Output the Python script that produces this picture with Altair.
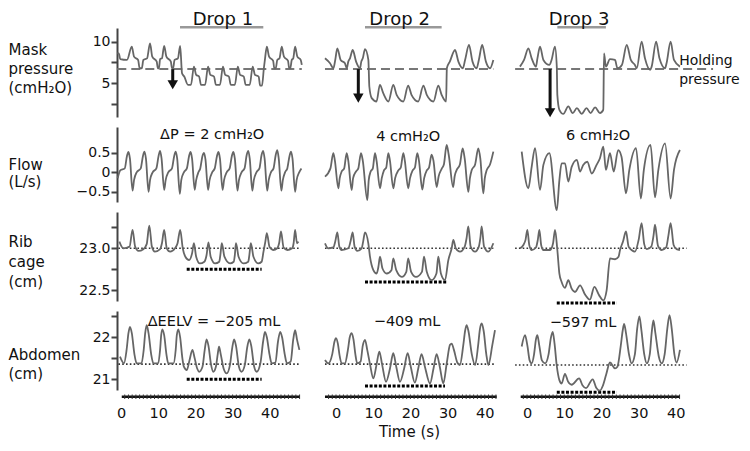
import altair as alt
import pandas as pd

FONT = "DejaVu Sans"
LINE = "#666666"

# ---------------- layout / scales (data units) ----------------
col_domains = [[-1.08, 51.34], [-6.45, 45.7], [-5.65, 43.0]]
col_widths = [195, 194, 181]
row_domains = [[0.93, 11.65], [-0.76, 1.16], [22.373, 23.432], [20.745, 22.626]]
row_heights = [89, 75, 89, 79]

row_titles = [["Mask", "pressure", "(cmH₂O)"], ["Flow", "(L/s)"], ["Rib", "cage", "(cm)"], ["Abdomen", "(cm)"]]
row_title_y = [14.5, 30.5, 22.2, 36.5]
row_title_lh = [19, 17, 20, 19]
y_tick_values = [[2.5, 5, 7.5, 10], [-0.5, 0, 0.5], [22.5, 22.75, 23, 23.25], [21, 21.5, 22, 22.5]]
y_label_exprs = [
    "datum.value == 10 ? '10' : (datum.value == 5 ? '5' : '')",
    "datum.value > 0.1 ? '0.5' : (datum.value < -0.1 ? '\u22120.5' : '0')",
    "datum.value == 23 ? '23.0' : (datum.value == 22.5 ? '22.5' : '')",
    "datum.value == 22 ? '22' : (datum.value == 21 ? '21' : '')",
]
x_tick_values = [0, 10, 20, 30, 40]

# ---------------- traces: (time s, value) ----------------
mask1 = [(-1.0, 8.6), (-0.6, 8.6), (-0.2, 7.9), (1.6, 7.8), (2.9, 9.4), (3.5, 8.2), (4.6, 7.8), (5.0, 6.8),
         (5.6, 6.8), (6.0, 7.8), (7.0, 8.0), (7.8, 9.8), (8.4, 8.2), (9.6, 7.6), (9.9, 6.8), (10.2, 6.8),
         (10.5, 7.9), (11.0, 8.0), (11.6, 9.5), (12.2, 8.2), (13.4, 7.6), (13.7, 6.8), (14.0, 6.8), (14.4, 7.8),
         (15.3, 8.0), (15.9, 9.5), (16.4, 6.2), (17.0, 5.8), (18.0, 4.8), (18.8, 4.8), (19.6, 7.0), (20.2, 6.0),
         (21.0, 5.8), (21.5, 4.8), (22.6, 4.8), (23.4, 7.0), (24.0, 6.0), (25.0, 5.8), (25.5, 4.8), (26.6, 4.8),
         (27.4, 7.0), (28.0, 6.0), (29.0, 5.8), (29.5, 4.8), (30.6, 4.8), (31.4, 7.0), (32.0, 6.0), (33.0, 5.8),
         (33.5, 4.8), (34.6, 4.8), (35.4, 7.0), (36.0, 6.0), (37.0, 5.8), (37.4, 4.7), (37.9, 4.7), (38.4, 6.8),
         (38.7, 7.9), (39.2, 9.4), (39.8, 8.2), (40.9, 7.7), (41.2, 6.8), (41.6, 6.8), (42.0, 7.8), (42.6, 8.0),
         (43.2, 9.4), (43.8, 8.2), (44.9, 7.7), (45.2, 6.8), (45.5, 6.8), (45.9, 7.8), (46.3, 8.0), (46.8, 9.4),
         (47.4, 8.2), (48.3, 7.8), (48.6, 7.2)]
mask2 = [(-2.96, 8.0), (-1.6, 7.4), (-0.7, 6.8), (-0.2, 7.8), (0.36, 9.2), (1.25, 7.8), (2.4, 7.4), (2.9, 6.8),
         (3.3, 7.6), (3.76, 8.0), (4.5, 9.0), (5.4, 7.6), (6.45, 6.8), (6.8, 7.6), (7.2, 8.0), (7.8, 9.1),
         (8.7, 7.8), (8.96, 4.6), (9.6, 3.2), (10.9, 2.8), (11.8, 4.8), (12.7, 3.8), (14.1, 2.8), (15.4, 4.8),
         (16.3, 3.6), (18.1, 2.8), (19.4, 4.7), (20.3, 3.6), (22.1, 2.8), (23.5, 4.7), (24.4, 3.6), (26.2, 2.8),
         (27.5, 4.7), (28.4, 3.6), (29.6, 2.8), (29.8, 6.8), (30.6, 7.6), (32.0, 9.0), (32.9, 7.6), (34.1, 6.8),
         (34.7, 7.8), (35.75, 9.6), (36.7, 7.6), (37.8, 6.8), (38.4, 7.8), (39.3, 9.6), (40.3, 7.6), (41.4, 6.8),
         (42.3, 7.8)]
mask3 = [(-1.9, 7.0), (-0.8, 7.8), (0.36, 9.2), (1.25, 8.0), (2.4, 7.0), (2.8, 8.0), (3.5, 9.4), (4.4, 7.8),
         (6.0, 7.2), (6.6, 7.8), (7.5, 9.4), (8.0, 7.0), (8.15, 3.6), (8.7, 1.8), (9.76, 1.3), (11.1, 2.2),
         (12.3, 1.4), (13.4, 2.0), (14.7, 1.3), (16.0, 2.0), (17.1, 1.4), (18.3, 2.1), (19.6, 1.4), (20.5, 1.8),
         (20.7, 8.6), (21.2, 7.0), (22.3, 7.9), (23.65, 7.8), (24.3, 6.8), (25.5, 7.2), (26.8, 9.6), (27.9, 7.8),
         (29.0, 7.2), (29.5, 6.8), (30.8, 10.0), (31.7, 8.0), (33.1, 6.6), (33.5, 7.0), (34.7, 10.0), (35.6, 8.0),
         (37.1, 6.8), (37.5, 7.4), (38.6, 10.0), (39.5, 7.8), (41.1, 7.0)]

flow1 = [(-0.9, -0.15), (-0.2, 0.05), (1.0, 0.1), (1.6, 0.42), (2.0, 0.52), (2.4, 0.35), (3.1, -0.47), (3.5, -0.2),
         (4.2, 0.0), (5.3, 0.1), (5.9, 0.42), (6.3, 0.53), (6.7, 0.35), (7.4, -0.5), (7.8, -0.2), (8.5, 0.0),
         (9.5, 0.1), (10.1, 0.42), (10.5, 0.55), (10.9, 0.35), (11.6, -0.45), (12.0, -0.2), (12.7, 0.0), (13.7, 0.1),
         (14.3, 0.42), (14.7, 0.53), (15.1, 0.35), (15.8, -0.55), (16.2, -0.2), (16.9, 0.0), (17.7, 0.1), (18.3, 0.42),
         (18.7, 0.52), (19.1, 0.35), (19.8, -0.45), (20.2, -0.2), (20.8, 0.0), (21.3, 0.1), (21.9, 0.42), (22.3, 0.5),
         (22.7, 0.33), (23.4, -0.45), (23.8, -0.2), (24.5, 0.0), (25.2, 0.1), (25.8, 0.42), (26.2, 0.52), (26.6, 0.35),
         (27.3, -0.45), (27.7, -0.2), (28.4, 0.0), (29.2, 0.1), (29.8, 0.42), (30.2, 0.52), (30.6, 0.35), (31.3, -0.47),
         (31.7, -0.2), (32.4, 0.0), (33.2, 0.1), (33.8, 0.45), (34.2, 0.55), (34.6, 0.35), (35.3, -0.47), (35.7, -0.2),
         (36.4, 0.0), (37.2, 0.1), (37.8, 0.45), (38.2, 0.55), (38.6, 0.35), (39.3, -0.47), (39.7, -0.2), (40.3, 0.0),
         (41.0, 0.1), (41.6, 0.45), (42.0, 0.57), (42.4, 0.35), (43.1, -0.47), (43.5, -0.2), (44.1, 0.0), (44.7, 0.1),
         (45.3, 0.42), (45.7, 0.53), (46.1, 0.35), (46.8, -0.5), (47.2, -0.2), (47.9, 0.0), (48.5, 0.1)]
flow2 = [(-2.96, -0.11), (-1.5, 0.1), (-0.72, 0.49), (-0.3, 0.3), (0.63, -0.41), (1.0, -0.15), (1.52, 0.02),
         (2.2, 0.1), (2.87, 0.49), (3.3, 0.3), (4.21, -0.45), (4.6, -0.15), (5.38, 0.02), (6.0, 0.1), (6.72, 0.49),
         (7.2, 0.3), (8.42, -0.71), (8.8, -0.2), (9.32, 0.02), (9.9, 0.1), (10.48, 0.49), (10.9, 0.3), (11.83, -0.41),
         (12.3, -0.15), (12.9, 0.05), (13.5, 0.12), (14.07, 0.49), (14.5, 0.3), (15.4, -0.41), (15.9, -0.15),
         (16.76, 0.05), (17.4, 0.12), (18.1, 0.49), (18.5, 0.3), (19.4, -0.41), (19.9, -0.15), (20.6, 0.05),
         (21.2, 0.12), (21.86, 0.49), (22.3, 0.3), (23.2, -0.44), (23.7, -0.15), (24.4, 0.05), (25.0, 0.12),
         (25.7, 0.45), (26.2, 0.3), (27.06, -0.38), (27.6, -0.1), (28.4, 0.09), (29.0, 0.2), (29.75, 0.7),
         (30.3, 0.45), (31.5, -0.38), (31.9, -0.1), (32.4, 0.05), (33.3, 0.2), (34.05, 0.61), (34.6, 0.35),
         (35.57, -0.5), (36.0, -0.15), (36.47, 0.05), (37.4, 0.2), (38.26, 0.61), (38.8, 0.35), (39.6, -0.54),
         (40.0, -0.15), (40.5, 0.05), (41.4, 0.2), (42.3, 0.53)]
flow3 = [(-1.43, 0.53), (0.36, -0.41), (1.25, 0.14), (2.15, 0.62), (3.5, -0.45), (4.4, 0.19), (6.0, 0.49),
         (8.0, -0.97), (8.7, -0.2), (9.3, 0.23), (10.2, 0.23), (11.1, -0.24), (12.0, 0.14), (13.4, 0.32),
         (14.25, 0.02), (15.1, 0.19), (16.2, 0.27), (17.4, -0.03), (18.7, 0.19), (19.6, 0.36), (20.5, 0.66),
         (21.2, 0.06), (22.3, 0.49), (23.3, 0.02), (24.5, 0.57), (25.4, 0.4), (26.6, -0.54), (27.5, 0.06),
         (29.3, 0.62), (30.6, -0.67), (31.4, 0.06), (33.2, 0.7), (34.4, -0.64), (35.3, 0.06), (37.1, 0.74),
         (38.6, -0.67), (39.5, 0.06), (41.1, 0.57)]

rib1 = [(-0.45, 23.08), (0.6, 23.0), (2.3, 23.02), (3.1, 23.22), (3.8, 23.02), (4.7, 22.97), (6.0, 22.99),
        (6.9, 23.05), (7.6, 23.27), (8.3, 23.02), (9.1, 22.96), (10.5, 22.99), (11.0, 23.06), (11.6, 23.22),
        (12.3, 23.0), (13.2, 22.96), (14.5, 23.0), (15.2, 23.06), (15.9, 23.22), (16.6, 23.0), (17.3, 22.9),
        (18.3, 22.86), (19.1, 22.94), (19.6, 23.06), (20.2, 22.9), (21.2, 22.82), (22.4, 22.84), (23.0, 22.92),
        (23.5, 23.07), (24.1, 22.9), (25.3, 22.82), (26.4, 22.84), (26.7, 22.92), (27.1, 23.06), (27.8, 22.9),
        (29.3, 22.82), (30.3, 22.84), (30.6, 22.92), (30.9, 23.06), (31.6, 22.9), (32.9, 22.82), (34.2, 22.84),
        (34.5, 22.92), (34.9, 23.06), (35.6, 22.9), (36.9, 22.82), (37.8, 22.84), (38.3, 22.96), (38.8, 23.08),
        (39.2, 23.18), (39.9, 23.02), (40.9, 22.98), (42.0, 23.0), (42.5, 23.06), (43.0, 23.2), (43.7, 23.01),
        (44.7, 22.98), (46.0, 23.0), (46.4, 23.06), (46.8, 23.22), (47.3, 23.06), (47.7, 23.08)]
rib2 = [(-2.96, 23.06), (-2.06, 23.0), (-0.72, 23.01), (-0.2, 23.08), (0.36, 23.19), (0.9, 23.02), (1.52, 22.98),
        (3.32, 23.0), (3.9, 23.08), (4.48, 23.19), (5.0, 23.02), (5.73, 22.97), (6.9, 23.0), (7.3, 23.08),
        (7.8, 23.19), (8.69, 23.06), (9.14, 22.9), (10.04, 22.74), (10.93, 22.7), (11.4, 22.78), (11.83, 22.9),
        (12.5, 22.76), (13.62, 22.7), (14.9, 22.74), (15.4, 22.88), (16.2, 22.74), (17.7, 22.66), (18.9, 22.72),
        (19.4, 22.88), (20.2, 22.72), (21.5, 22.66), (23.1, 22.72), (23.66, 22.9), (24.4, 22.72), (25.7, 22.62),
        (27.0, 22.7), (27.5, 22.9), (28.2, 22.7), (29.3, 22.62), (30.2, 22.86), (31.1, 23.0), (31.54, 23.1),
        (32.2, 23.0), (33.33, 22.96), (34.6, 23.02), (35.1, 23.12), (35.57, 23.26), (36.2, 23.02), (37.37, 22.96),
        (38.4, 23.02), (38.8, 23.12), (39.16, 23.26), (39.8, 23.02), (40.95, 22.96), (42.3, 23.06)]
rib3 = [(-1.88, 23.0), (-0.98, 23.04), (-0.4, 23.1), (0.09, 23.22), (0.6, 23.04), (1.25, 22.98), (2.4, 23.01),
        (2.9, 23.1), (3.32, 23.22), (3.8, 23.04), (4.4, 22.98), (6.2, 22.98), (7.0, 23.06), (7.53, 23.22),
        (8.15, 22.98), (8.7, 22.7), (9.3, 22.6), (10.2, 22.53), (11.1, 22.62), (12.0, 22.52), (12.9, 22.48),
        (14.25, 22.56), (15.6, 22.45), (16.9, 22.39), (18.1, 22.54), (19.4, 22.44), (20.5, 22.38), (21.4, 22.5),
        (22.3, 22.88), (23.66, 22.87), (24.6, 22.9), (25.0, 22.98), (25.8, 23.08), (26.6, 23.2), (27.3, 23.02),
        (28.1, 22.98), (29.0, 22.96), (30.0, 23.1), (30.8, 23.3), (31.5, 23.05), (32.2, 22.99), (33.4, 23.02),
        (34.0, 23.15), (34.4, 23.28), (35.2, 23.03), (36.2, 22.98), (37.4, 23.01), (38.0, 23.15), (38.6, 23.3),
        (39.4, 23.04), (40.2, 22.99), (41.1, 22.98)]

abd1 = [(-0.27, 21.54), (0.8, 21.38), (1.5, 21.7), (2.0, 22.1), (2.4, 22.25), (2.9, 22.1), (3.6, 21.6),
        (4.2, 21.38), (5.5, 21.38), (6.1, 21.7), (6.5, 22.1), (6.9, 22.29), (7.4, 22.1), (8.1, 21.6), (8.7, 21.38),
        (10.0, 21.38), (10.5, 21.7), (10.8, 22.05), (11.1, 22.19), (11.6, 22.05), (12.2, 21.6), (12.7, 21.38),
        (14.1, 21.38), (14.7, 21.7), (15.0, 22.05), (15.4, 22.19), (15.9, 22.0), (16.5, 21.5), (16.9, 21.3),
        (17.7, 21.22), (18.4, 21.45), (19.2, 21.7), (19.8, 21.5), (20.5, 21.25), (21.0, 21.18), (21.9, 21.3),
        (22.5, 21.7), (23.0, 21.95), (23.5, 21.8), (24.2, 21.35), (24.8, 21.18), (25.5, 21.3), (26.0, 21.6),
        (26.35, 21.78), (26.8, 21.6), (27.6, 21.25), (28.4, 21.14), (29.3, 21.35), (29.9, 21.75), (30.4, 21.95),
        (30.9, 21.8), (31.7, 21.3), (32.4, 21.18), (33.3, 21.35), (33.9, 21.75), (34.5, 21.95), (35.0, 21.8),
        (35.8, 21.3), (36.5, 21.18), (37.5, 21.4), (38.2, 21.9), (38.7, 22.13), (39.2, 22.0), (39.9, 21.6),
        (40.5, 21.38), (41.5, 21.4), (42.2, 21.9), (42.8, 22.13), (43.3, 22.0), (44.0, 21.6), (44.6, 21.38),
        (45.6, 21.42), (46.3, 21.95), (46.8, 22.17), (47.3, 21.95), (47.95, 21.7)]
abd2 = [(-2.96, 21.46), (-2.06, 21.38), (-1.0, 21.6), (-0.4, 21.9), (0.0, 21.98), (0.5, 21.85), (1.0, 21.55),
        (1.52, 21.38), (2.4, 21.38), (3.2, 21.7), (3.7, 22.0), (4.2, 22.1), (4.7, 21.95), (5.2, 21.6),
        (5.7, 21.38), (6.6, 21.42), (7.2, 21.8), (7.8, 21.94), (8.4, 21.7), (9.14, 21.36), (10.04, 21.02),
        (10.9, 21.35), (11.65, 21.66), (12.4, 21.35), (13.44, 20.94), (14.5, 21.25), (15.4, 21.62), (16.2, 21.3),
        (17.2, 20.94), (18.3, 21.25), (19.27, 21.62), (20.1, 21.3), (21.2, 20.92), (22.1, 21.25), (23.0, 21.6),
        (23.9, 21.3), (25.27, 20.9), (26.2, 21.25), (27.06, 21.6), (27.9, 21.3), (28.85, 20.9), (29.8, 21.4),
        (30.65, 21.82), (31.1, 21.85), (31.7, 21.7), (32.6, 21.4), (33.3, 21.34), (34.2, 21.8), (34.7, 22.15),
        (35.1, 22.29), (35.6, 22.15), (36.5, 21.6), (37.4, 21.34), (38.2, 21.8), (38.7, 22.2), (39.16, 22.33),
        (39.7, 22.15), (40.4, 21.6), (40.95, 21.34), (42.0, 21.8), (42.74, 22.17)]
abd3 = [(-1.43, 21.78), (-0.54, 22.05), (0.1, 21.8), (0.7, 21.45), (1.25, 21.38), (1.9, 21.6), (2.4, 21.95),
        (2.78, 22.05), (3.3, 21.8), (4.0, 21.45), (4.84, 21.38), (5.8, 21.6), (6.4, 21.98), (6.9, 22.13),
        (7.4, 21.85), (7.97, 21.34), (8.7, 20.98), (9.3, 20.9), (10.2, 21.13), (11.0, 20.95), (12.0, 20.87),
        (14.0, 21.02), (14.9, 20.86), (15.86, 20.79), (17.65, 21.0), (18.6, 20.8), (19.6, 20.73), (20.4, 20.85),
        (21.24, 21.1), (22.3, 21.4), (23.66, 21.26), (24.3, 21.3), (25.2, 21.8), (25.7, 22.15), (26.1, 22.32),
        (26.6, 22.1), (27.4, 21.6), (28.1, 21.38), (29.0, 21.6), (29.6, 22.2), (30.2, 22.5), (30.7, 22.2),
        (31.5, 21.6), (32.2, 21.38), (33.0, 21.6), (33.5, 22.1), (33.97, 22.4), (34.5, 22.1), (35.4, 21.55),
        (36.2, 21.38), (37.0, 21.6), (37.7, 22.2), (38.3, 22.53), (38.9, 22.2), (39.6, 21.6), (40.2, 21.4),
        (41.1, 21.7)]

traces = [[mask1, mask2, mask3], [flow1, flow2, flow3], [rib1, rib2, rib3], [abd1, abd2, abd3]]

# ---------------- annotations ----------------
drop_labels = ["Drop 1", "Drop 2", "Drop 3"]
drop_label_t = [27.4, 17.1, 14.0]
drop_label_v = 12.67
drop_bars = [(15.86, 38.25), (7.8, 28.4), (8.15, 21.2)]
drop_bar_v = 11.73

holding_v = 6.7
holding_spans = [(-1.0, 48.6), (-2.96, 42.3), (-3.2, 50.0)]
holding_text = ["Holding", "pressure"]
holding_text_t = 40.9
holding_text_v = [7.67, 5.39]

arrow_t = [13.9, 6.0, 6.2]
arrow_tip = [4.27, 2.65, 0.9]

flow_text = ["\u0394P = 2 cmH\u2082O", "4 cmH\u2082O", "6 cmH\u2082O"]
flow_text_t = [24.5, 19.4, 19.1]
flow_text_v = [0.956, 0.905, 0.93]

eelv_text = ["\u0394EELV = \u2212205 mL", "\u2212409 mL", "\u2212597 mL"]
eelv_text_t = [25.0, 19.1, 15.05]
eelv_text_v = [22.364, 22.36, 22.34]

rib_base_v = [23.0, 23.0, 23.0]
rib_base_spans = [(-0.7, 48.1), (-2.96, 42.3), (-3.2, 42.9)]
rib_low_v = [22.75, 22.60, 22.35]
rib_low_spans = [(17.66, 37.8), (7.8, 29.8), (8.0, 24.1)]

abd_base_v = [21.36, 21.36, 21.34]
abd_base_spans = [(-0.7, 48.1), (-2.96, 42.6), (-3.2, 42.9)]
abd_low_v = [21.0, 20.84, 20.69]
abd_low_spans = [(17.66, 37.8), (7.8, 29.3), (8.0, 24.1)]

ruler_v = 20.586
ruler_spans = [(0.2, 48.1), (-2.96, 43.2), (-1.7, 41.1)]


# ---------------- helpers ----------------
def xenc(r, c):
    scale = alt.Scale(domain=col_domains[c], nice=False, zero=False)
    if r == 3:
        kw = dict(values=x_tick_values, domain=False, ticks=False, tickSize=0, labelPadding=16,
                  labelFontSize=14.5, grid=False, labelFlush=False)
        if c == 1:
            kw.update(title="Time (s)", titleFontSize=15, titlePadding=5, titleFontWeight="normal")
        else:
            kw.update(title="")
        return alt.X("t:Q", scale=scale, axis=alt.Axis(**kw))
    return alt.X("t:Q", scale=scale, axis=None)


def yenc(r, c):
    scale = alt.Scale(domain=row_domains[r], nice=False, zero=False)
    if c == 0:
        ax = alt.Axis(values=y_tick_values[r], labelExpr=y_label_exprs[r], title=row_titles[r],
                      titleAngle=0, titleAlign="left", titleBaseline="top", titleX=-109,
                      titleY=row_title_y[r], titleLineHeight=row_title_lh[r], labelFlush=False)
        return alt.Y("v:Q", scale=scale, axis=ax)
    return alt.Y("v:Q", scale=scale, axis=None)


def rule_df(spans, vals):
    return pd.DataFrame({"t": [s[0] for s in spans], "t2": [s[1] for s in spans], "v": vals})


panels = []
for r in range(4):
    for c in range(3):
        X = xenc(r, c)
        Y = yenc(r, c)
        layers = []
        tr = traces[r][c]
        df = pd.DataFrame({"t": [p[0] for p in tr], "v": [p[1] for p in tr], "i": list(range(len(tr)))})

        if r == 0:
            layers.append(alt.Chart(rule_df([holding_spans[c]], [holding_v])).mark_rule(
                color="#777", strokeWidth=2, strokeDash=[9, 5]).encode(x=X, x2="t2", y=Y))
        if r == 2:
            layers.append(alt.Chart(rule_df([rib_base_spans[c]], [rib_base_v[c]])).mark_rule(
                color="#333", strokeWidth=1.6, strokeDash=[1.6, 2.2]).encode(x=X, x2="t2", y=Y))
            layers.append(alt.Chart(rule_df([rib_low_spans[c]], [rib_low_v[c]])).mark_rule(
                color="#000", strokeWidth=3, strokeDash=[3, 1.6]).encode(x=X, x2="t2", y=Y))
        if r == 3:
            layers.append(alt.Chart(rule_df([abd_base_spans[c]], [abd_base_v[c]])).mark_rule(
                color="#333", strokeWidth=1.6, strokeDash=[1.6, 2.2]).encode(x=X, x2="t2", y=Y))
            layers.append(alt.Chart(rule_df([abd_low_spans[c]], [abd_low_v[c]])).mark_rule(
                color="#000", strokeWidth=3, strokeDash=[3, 1.6]).encode(x=X, x2="t2", y=Y))

        layers.append(alt.Chart(df).mark_line(color=LINE, strokeWidth=1.8, strokeJoin="round",
                                              interpolate="monotone").encode(x=X, y=Y, order="i:Q"))

        if r == 0:
            layers.append(alt.Chart(rule_df([drop_bars[c]], [drop_bar_v])).mark_rule(
                color="#999", strokeWidth=2.5).encode(x=X, x2="t2", y=Y))
            layers.append(alt.Chart(pd.DataFrame({"t": [drop_label_t[c]], "v": [drop_label_v],
                                                  "label": [drop_labels[c]]})).mark_text(
                fontSize=18, color="#111", baseline="middle").encode(x=X, y=Y, text="label:N"))
            tip = arrow_tip[c]
            layers.append(alt.Chart(pd.DataFrame({"t": [arrow_t[c]], "v": [holding_v], "v2": [tip + 0.9]})).mark_rule(
                color="#111", strokeWidth=3).encode(x=X, y=Y, y2="v2"))
            layers.append(alt.Chart(pd.DataFrame({"t": [arrow_t[c]], "v": [tip + 0.55]})).mark_point(
                shape="triangle-down", filled=True, color="#111", size=110, opacity=1).encode(x=X, y=Y))
            if c == 2:
                layers.append(alt.Chart(pd.DataFrame({"t": [holding_text_t] * 2, "v": holding_text_v,
                                                      "label": holding_text})).mark_text(
                    fontSize=14, color="#111", align="left", baseline="middle").encode(x=X, y=Y, text="label:N"))
        if r == 1:
            layers.append(alt.Chart(pd.DataFrame({"t": [flow_text_t[c]], "v": [flow_text_v[c]],
                                                  "label": [flow_text[c]]})).mark_text(
                fontSize=14.5, color="#111", baseline="middle").encode(x=X, y=Y, text="label:N"))
        if r == 3:
            layers.append(alt.Chart(pd.DataFrame({"t": [eelv_text_t[c]], "v": [eelv_text_v[c]],
                                                  "label": [eelv_text[c]]})).mark_text(
                fontSize=14.5, color="#111", baseline="middle").encode(x=X, y=Y, text="label:N"))
            layers.append(alt.Chart(rule_df([ruler_spans[c]], [ruler_v])).mark_rule(
                color="#111", strokeWidth=2.6).encode(x=X, x2="t2", y=Y))
            s0, s1 = ruler_spans[c]
            ticks = [float(k) for k in range(int(s0), int(s1) + 1) if s0 <= k <= s1]
            layers.append(alt.Chart(pd.DataFrame({"t": ticks, "v": [ruler_v] * len(ticks)})).mark_tick(
                orient="vertical", size=4.5, thickness=1, color="#333", opacity=1).encode(x=X, y=Y))

        panels.append(alt.layer(*layers).properties(width=col_widths[c], height=row_heights[r]))

chart = alt.ConcatChart(
    concat=panels, columns=3, spacing={"row": 10, "column": 0}, bounds="flush", align="each",
    padding={"top": 2, "left": 0, "right": 0, "bottom": 0}
).configure(font=FONT).configure_view(stroke=None).configure_axis(
    grid=False, domainColor="#444", domainWidth=2, tickColor="#444", tickWidth=2, tickSize=6,
    labelFontSize=14, labelColor="#111", labelPadding=1, titleFontSize=15, titleFontWeight="normal",
    titleColor="#111", labelFont=FONT, titleFont=FONT
)

chart.save("out.html", embed_options={"renderer": "svg", "actions": False})
